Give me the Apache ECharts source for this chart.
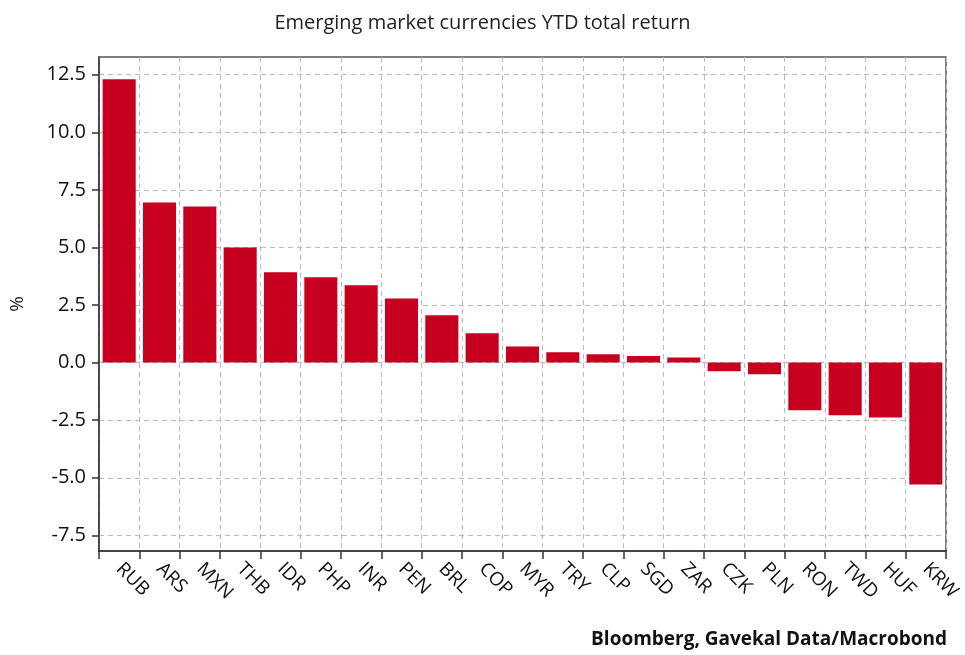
<!DOCTYPE html>
<html>
<head>
<meta charset="utf-8">
<script src="https://cdn.jsdelivr.net/npm/echarts@6/dist/echarts.min.js"></script>
<style>
  html, body { margin: 0; padding: 0; background: #fff; }
  #chart { width: 965px; height: 655px; }
</style>
</head>
<body>
<div id="chart"></div>
<script>
// currencies, ordered as in the chart
const currencies = ['RUB', 'ARS', 'MXN', 'THB', 'IDR', 'PHP', 'INR', 'PEN', 'BRL', 'COP', 'MYR',
  'TRY', 'CLP', 'SGD', 'ZAR', 'CZK', 'PLN', 'RON', 'TWD', 'HUF', 'KRW']
// YTD total return, %
const ytdReturn = [12.3, 6.95, 6.78, 5.0, 3.92, 3.71, 3.36, 2.78, 2.06, 1.27, 0.7,
  0.45, 0.36, 0.29, 0.22, -0.37, -0.51, -2.07, -2.29, -2.38, -5.29]
const yTicks = [-7.5, -5, -2.5, 0, 2.5, 5, 7.5, 10, 12.5]

const FONT = '"Open Sans", "Noto Sans", sans-serif'
const BAR_COLOR = '#c8001f'

const chart = echarts.init(document.getElementById('chart'))

chart.setOption({
  animation: false,
  title: {
    text: 'Emerging market currencies YTD total return',
    left: 'center',
    top: 8,
    textStyle: { fontFamily: FONT, fontSize: 20, fontWeight: 'normal', color: '#222' }
  },
  graphic: [{
    type: 'text',
    right: 18,
    top: 630,
    style: {
      text: 'Bloomberg, Gavekal Data/Macrobond',
      fontFamily: FONT,
      fontSize: 19,
      fontWeight: 'bold',
      fill: '#111'
    }
  }],
  grid: {
    left: 97,
    right: 19,
    top: 57,
    bottom: 104,
    show: true,
    borderColor: '#555',
    borderWidth: 1.5
  },
  xAxis: {
    type: 'category',
    data: currencies,
    boundaryGap: true,
    axisLine: { onZero: false, lineStyle: { color: '#333', width: 1.5 } },
    axisTick: { show: true, interval: 0, length: 8, lineStyle: { color: '#333', width: 1.5 } },
    axisLabel: {
      interval: 0,
      rotate: -45,
      margin: 15,
      fontFamily: FONT,
      fontSize: 19,
      color: '#111'
    },
    splitLine: { show: true, interval: 0, lineStyle: { color: '#bbb', type: [5, 4] } }
  },
  yAxis: {
    type: 'value',
    min: -8.18,
    max: 13.27,
    name: '%',
    nameLocation: 'middle',
    nameGap: 72,
    nameRotate: 90,
    nameTextStyle: { fontFamily: FONT, fontSize: 19, color: '#111' },
    axisLine: { show: true, lineStyle: { color: '#333', width: 1.5 } },
    axisTick: { show: true, length: 7, customValues: yTicks, lineStyle: { color: '#333', width: 1.5 } },
    axisLabel: {
      customValues: yTicks,
      margin: 13,
      fontFamily: FONT,
      fontSize: 20,
      color: '#111',
      formatter: v => v.toFixed(1)
    },
    splitLine: { show: true, lineStyle: { color: '#bbb', type: [5, 4] } }
  },
  series: [{
    type: 'bar',
    data: ytdReturn,
    barCategoryGap: '18%',
    itemStyle: { color: BAR_COLOR }
  }]
})
</script>
</body>
</html>
